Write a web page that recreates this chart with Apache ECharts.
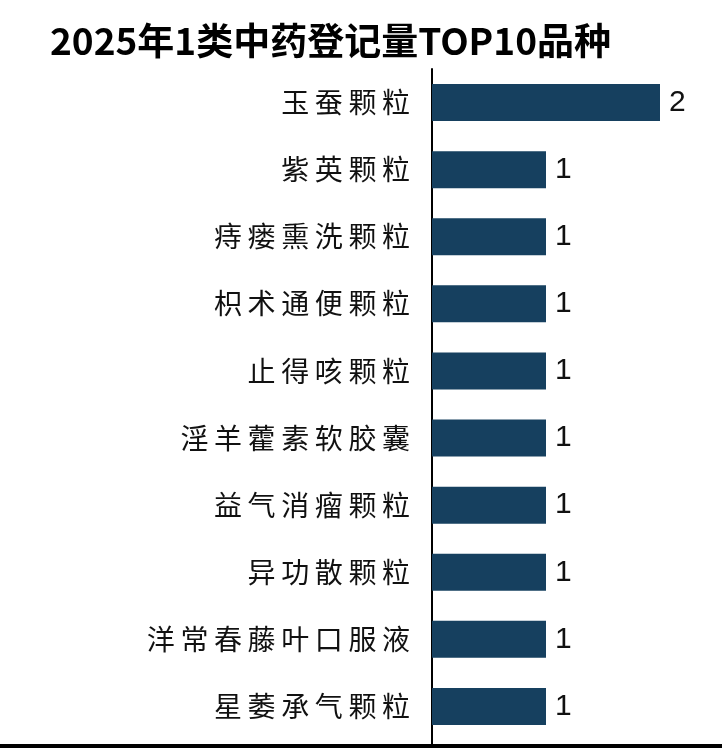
<!DOCTYPE html>
<html>
<head>
<meta charset="utf-8">
<script src="https://cdn.jsdelivr.net/npm/echarts@6/dist/echarts.min.js"></script>
<style>
  html, body { margin: 0; padding: 0; background: #fff; }
  #container { width: 722px; height: 749px; }
</style>
</head>
<body>
<div id="container"></div>
<script>
const dom = document.getElementById('container')
const myChart = echarts.init(dom)

const varieties = [
    '玉蚕颗粒',
    '紫英颗粒',
    '痔瘘熏洗颗粒',
    '枳术通便颗粒',
    '止得咳颗粒',
    '淫羊藿素软胶囊',
    '益气消瘤颗粒',
    '异功散颗粒',
    '洋常春藤叶口服液',
    '星萎承气颗粒'
]
const counts = [2, 1, 1, 1, 1, 1, 1, 1, 1, 1]

const option = {
    backgroundColor: '#ffffff',
    animation: false,
    title: {
        text: '2025年1类中药登记量TOP10品种',
        left: 45,
        top: 17,
        textStyle: {
            color: '#000',
            fontSize: 37,
            fontWeight: 'bold',
            fontFamily: 'Noto Sans CJK SC'
        }
    },
    grid: {
        left: 432,
        right: 62,
        top: 69,
        bottom: 9
    },
    xAxis: {
        type: 'value',
        min: 0,
        max: 2,
        show: false
    },
    yAxis: {
        type: 'category',
        inverse: true,
        data: varieties,
        axisTick: { show: false },
        axisLine: {
            show: true,
            lineStyle: { color: '#000', width: 2 }
        },
        axisLabel: {
            color: '#111',
            fontSize: 28,
            margin: 22,
            fontFamily: 'Noto Sans CJK SC',
            // 原图字间距较宽
            formatter: v => v.split('').join('\u2009')
        }
    },
    series: [
        {
            type: 'bar',
            data: counts,
            barWidth: 37,
            itemStyle: { color: '#16405f' },
            label: {
                show: true,
                position: 'right',
                distance: 9,
                color: '#111',
                fontSize: 30,
                fontFamily: 'Liberation Sans'
            }
        }
    ],
    graphic: [
        {
            type: 'rect',
            shape: { x: 0, y: 744, width: 722, height: 4 },
            style: { fill: '#000' }
        },
        {
            type: 'line',
            shape: { x1: 432, y1: 738, x2: 432, y2: 744 },
            style: { stroke: '#000', lineWidth: 2 }
        }
    ]
}

myChart.setOption(option)
</script>
</body>
</html>
